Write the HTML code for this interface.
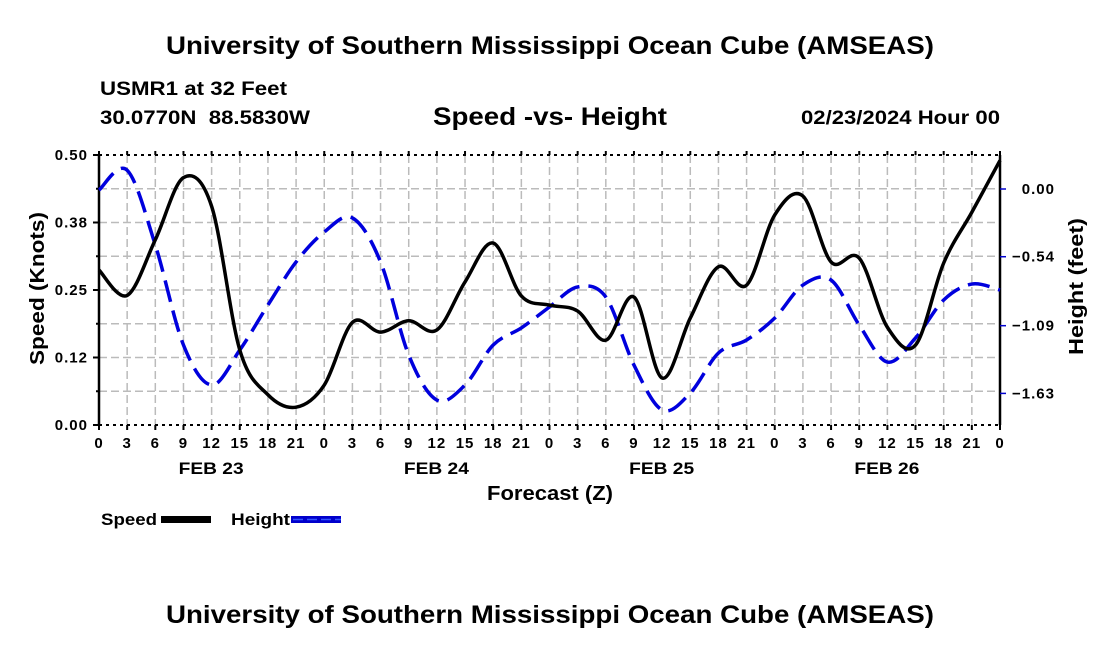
<!DOCTYPE html>
<html><head><meta charset="utf-8"><style>
html,body{margin:0;padding:0;background:#fff;}
svg{display:block;font-family:"Liberation Sans",Arial,sans-serif;font-weight:bold;}
</style></head><body>
<svg id="chart" width="1100" height="650" viewBox="0 0 1100 650">
<text x="166" y="54" font-size="25" textLength="768" lengthAdjust="spacingAndGlyphs">University of Southern Mississippi Ocean Cube (AMSEAS)</text>
<text x="100" y="95" font-size="19" textLength="187" lengthAdjust="spacingAndGlyphs">USMR1 at 32 Feet</text>
<text x="100" y="124" font-size="19" textLength="210" lengthAdjust="spacingAndGlyphs">30.0770N&#160;&#160;88.5830W</text>
<text x="433" y="125" font-size="25" textLength="234" lengthAdjust="spacingAndGlyphs">Speed -vs- Height</text>
<text x="801" y="124" font-size="19" textLength="199" lengthAdjust="spacingAndGlyphs">02/23/2024 Hour 00</text>
<g id="grid"></g>
<g id="axes"></g>
<g id="series"></g>
<text transform="translate(44,365) rotate(-90)" font-size="20" textLength="153" lengthAdjust="spacingAndGlyphs">Speed (Knots)</text>
<text transform="translate(1083,355) rotate(-90)" font-size="20" textLength="137" lengthAdjust="spacingAndGlyphs">Height (feet)</text>
<text x="487" y="500" font-size="20" textLength="126" lengthAdjust="spacingAndGlyphs">Forecast (Z)</text>
<g>
<text x="101" y="525" font-size="17" textLength="56" lengthAdjust="spacingAndGlyphs">Speed</text>
<rect x="161" y="516" width="50" height="7" fill="#000"/>
<text x="231" y="525" font-size="17" textLength="59" lengthAdjust="spacingAndGlyphs">Height</text>
<rect x="291" y="516" width="50" height="7" fill="#0000cc"/>
<line x1="293" y1="519.5" x2="341" y2="519.5" stroke="#3355ff" stroke-width="1.5" stroke-dasharray="10,4"/>
</g>
<text x="166" y="623" font-size="25" textLength="768" lengthAdjust="spacingAndGlyphs">University of Southern Mississippi Ocean Cube (AMSEAS)</text>
</svg>
<script>
const hours = [0,3,6,9,12,15,18,21,24,27,30,33,36,39,42,45,48,51,54,57,60,63,66,69,72,75,78,81,84,87,90,93,96];
const speedValues = [0.287,0.240,0.343,0.458,0.405,0.139,0.056,0.033,0.074,0.190,0.172,0.193,0.176,0.265,0.337,0.239,0.222,0.211,0.157,0.237,0.087,0.198,0.293,0.259,0.389,0.424,0.302,0.309,0.181,0.148,0.300,0.394,0.490];
const heightValues = [-0.008,0.150,-0.447,-1.244,-1.563,-1.284,-0.925,-0.582,-0.343,-0.231,-0.582,-1.324,-1.683,-1.563,-1.244,-1.108,-0.941,-0.781,-0.861,-1.404,-1.762,-1.627,-1.308,-1.204,-1.029,-0.766,-0.726,-1.085,-1.380,-1.188,-0.885,-0.758,-0.805];
const speedTicks = [0,0.125,0.25,0.375,0.5];
const speedTickLabels = ["0.00","0.12","0.25","0.38","0.50"];
const heightTicks = [0,-0.54,-1.09,-1.63];
const heightTickLabels = ["0.00","\u22120.54","\u22121.09","\u22121.63"];
const hourTickLabels = ["0","3","6","9","12","15","18","21"];
const dayLabels = ["FEB 23","FEB 24","FEB 25","FEB 26"];

const X0=99,X1=1000,Y0=155,Y1=425;
const xs=h=>X0+(h/96)*(X1-X0);
const ySpeed=v=>Y1-(v/0.5)*(Y1-Y0);
const yHeight=h=>189-h*125.4;
const NS="http://www.w3.org/2000/svg";
function mk(parent,tag,attrs){const e=document.createElementNS(NS,tag);for(const k in attrs)e.setAttribute(k,attrs[k]);parent.appendChild(e);return e;}
const grid=document.getElementById('grid'),axes=document.getElementById('axes'),series=document.getElementById('series');

for(let i=1;i<8;i++){const y=Y0+i*(Y1-Y0)/8;
 const l=mk(grid,'line',{x1:X0,x2:X1,y1:y,y2:y,stroke:'#bbb','stroke-width':1.5,'stroke-dasharray':'8,4'});
 
 }
for(let i=1;i<32;i++){const x=xs(i*3);
 const l=mk(grid,'line',{x1:x,x2:x,y1:Y0,y2:Y1,stroke:'#bbb','stroke-width':1.5,'stroke-dasharray':'8,4'});
 
 }

[[X0,Y0,X1,Y0],[X0,Y1,X1,Y1]].forEach(a=>{const l=mk(axes,'line',{x1:a[0],y1:a[1],x2:a[2],y2:a[3],stroke:'#000','stroke-width':2,'stroke-dasharray':'3,4'});
 
 });
let la=mk(axes,'line',{x1:X0,y1:Y0,x2:X0,y2:Y1,stroke:'#000','stroke-width':2.5});


let ra=mk(axes,'line',{x1:X1,y1:Y0,x2:X1,y2:Y1,stroke:'#000','stroke-width':2.5});



speedTicks.forEach((v,i)=>{const y=ySpeed(v);
 const t=mk(axes,'line',{x1:X0-6,x2:X0,y1:y,y2:y,stroke:'#000','stroke-width':2});
 
 
 const tx=mk(axes,'text',{x:X0-11,y:y+5,'font-size':15,'letter-spacing':1,'text-anchor':'end'});tx.textContent=speedTickLabels[i];
 
 });
for(let i=1;i<8;i+=2){const y=Y0+i*(Y1-Y0)/8;const t=mk(axes,'line',{x1:X0-3,x2:X0,y1:y,y2:y,stroke:'#000','stroke-width':2});
 
 }
heightTicks.forEach((v,i)=>{const y=yHeight(v);
 const t=mk(axes,'line',{x1:X1,x2:X1+6,y1:y,y2:y,stroke:'#0000cc','stroke-width':1.5});
 
 
 const tx=mk(axes,'text',{x:X1+55,y:y+5,'font-size':15,'letter-spacing':1,'text-anchor':'end'});tx.textContent=heightTickLabels[i];
 
 });
for(let i=0;i<=32;i++){const x=xs(i*3);
 const t=mk(axes,'line',{x1:x,x2:x,y1:Y1,y2:Y1+5,stroke:'#000','stroke-width':2});
 
 
 const t2=mk(axes,'line',{x1:x,x2:x,y1:Y0-4,y2:Y0,stroke:'#000','stroke-width':2});
 
 
 const tx=mk(axes,'text',{x:x,y:Y1+23,'font-size':15,'letter-spacing':1,'text-anchor':'middle'});tx.textContent=hourTickLabels[i%8];
 
 }
dayLabels.forEach((d,i)=>{const tx=mk(axes,'text',{x:xs(i*24+12)-33,y:Y1+49,'font-size':17,textLength:65,lengthAdjust:'spacingAndGlyphs'});tx.textContent=d;
 
 });

function smooth(pts){let d='M'+pts[0][0]+','+pts[0][1];
 for(let i=0;i<pts.length-1;i++){const p0=pts[Math.max(0,i-1)],p1=pts[i],p2=pts[i+1],p3=pts[Math.min(pts.length-1,i+2)];
  const c1=[p1[0]+(p2[0]-p0[0])/6,p1[1]+(p2[1]-p0[1])/6],c2=[p2[0]-(p3[0]-p1[0])/6,p2[1]-(p3[1]-p1[1])/6];
  d+=' C'+c1.join(',')+' '+c2.join(',')+' '+p2.join(',');}
 return d;}
const hp=mk(series,'path',{d:smooth(hours.map((h,i)=>[xs(h),yHeight(heightValues[i])])),fill:'none',stroke:'#0000dd','stroke-width':3.5,'stroke-dasharray':'22,9'});


const sp=mk(series,'path',{d:smooth(hours.map((h,i)=>[xs(h),ySpeed(speedValues[i])])),fill:'none',stroke:'#000','stroke-width':3.5});


</script>
</body></html>
